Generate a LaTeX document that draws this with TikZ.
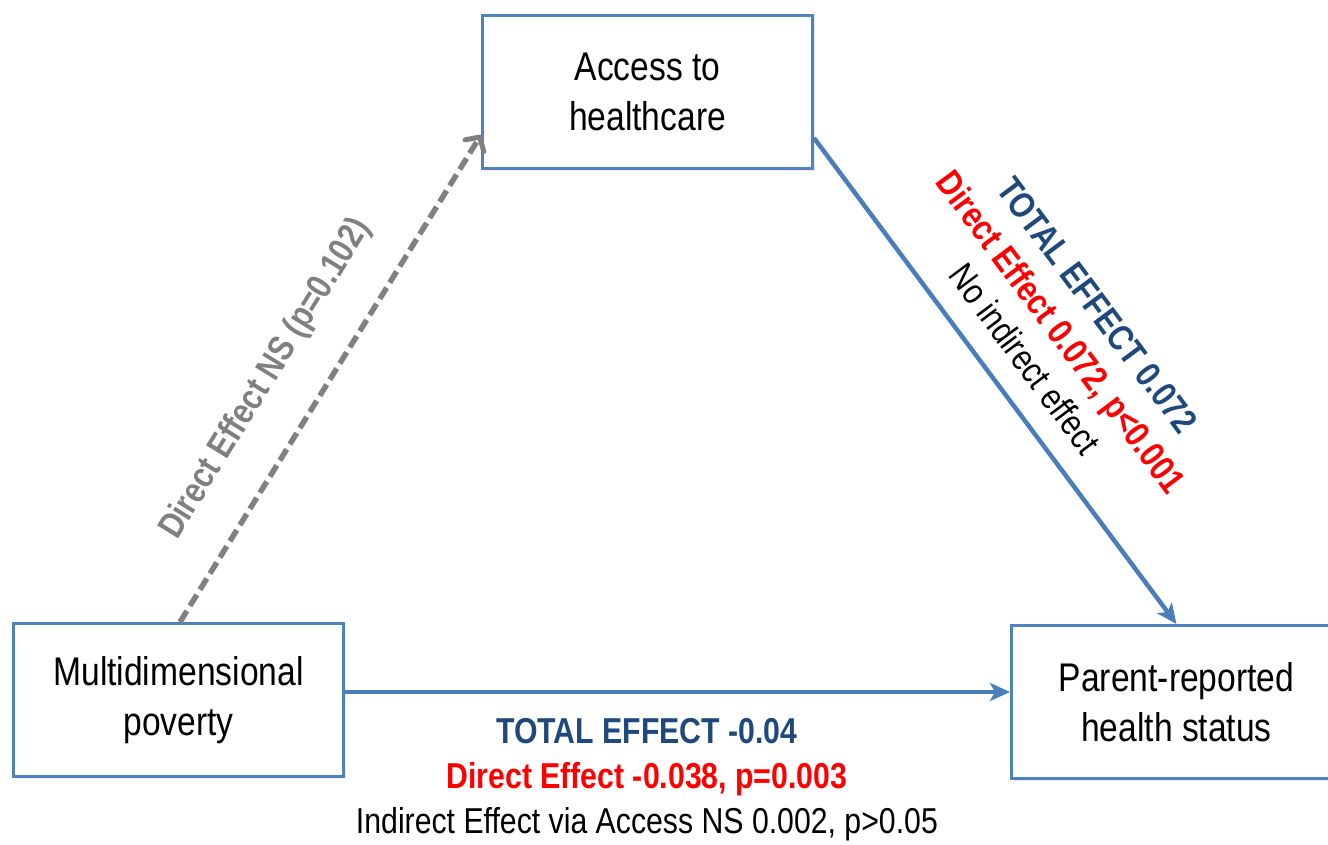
\documentclass[tikz,border=0pt]{standalone}
\usepackage{fontspec}
\setmainfont[FakeStretch=0.84]{Liberation Sans}
\usetikzlibrary{arrows.meta}
\usetikzlibrary{shadows}
\definecolor{boxblue}{RGB}{79,129,189}
\definecolor{arrowblue}{RGB}{74,126,187}
\definecolor{effblue}{RGB}{31,73,125}
\definecolor{nsgray}{RGB}{128,128,128}
\tikzset{
	node_var/.style = {
		rectangle,
		align=center,
		draw=boxblue,
		fill=white,
		line width=3pt,
		minimum width=330pt,
		minimum height=153pt,
		font=\fontsize{40}{50}\selectfont,
		drop shadow={opacity=0.15, shadow xshift=2pt, shadow yshift=-3pt}
	},
	edge_sig/.style = {
		draw=arrowblue,
		line width=4.5pt,
		-{Stealth[length=20pt, width=18pt, inset=5pt]}
	},
	edge_ns/.style = {
		draw=nsgray,
		line width=5.5pt,
		dash pattern=on 13pt off 6pt,
		-{Straight Barb[length=10pt, width=22pt, line width=5pt, round]}
	},
	label_eff/.style = {
		align=center,
		inner sep=0pt,
		font=\fontsize{36}{45}\selectfont
	},
	label_ns/.style = {
		label_eff,
		nsgray,
		font=\fontsize{36}{45}\selectfont\bfseries
	}
}
\begin{document}
\begin{tikzpicture}[x=1pt, y=1pt]
\useasboundingbox (0,0) rectangle (1328,845);
% variables
\node [node_var] (access) at (647.5,753) {Access to\\healthcare};
\node [node_var] (poverty) at (178.5,145) {Multidimensional\\poverty};
\node [node_var] (health) at (1176.5,143) {Parent-reported\\health status};
% paths
\draw [edge_ns] ([xshift=168pt]poverty.north west) -- ([yshift=-43pt]access.west)
	node [label_ns, pos=0.44, sloped, above=35pt] {Direct Effect NS (p=0.102)};
\draw [edge_sig] ([yshift=-46pt]access.east) -- (health.north)
	node [label_eff, pos=0.5, sloped, above=22pt] {{\color{effblue}\bfseries TOTAL EFFECT 0.072}\\{\color{red}\bfseries Direct Effect 0.072, p<0.001}\\No indirect effect};
\draw [edge_sig] ([yshift=8pt]poverty.east) -- ([yshift=10pt]health.west)
	node [label_eff, pos=0.454, below=24pt] {{\color{effblue}\bfseries TOTAL EFFECT -0.04}\\{\color{red}\bfseries Direct Effect -0.038, p=0.003}\\Indirect Effect via Access NS 0.002, p>0.05};
\end{tikzpicture}
\end{document}
